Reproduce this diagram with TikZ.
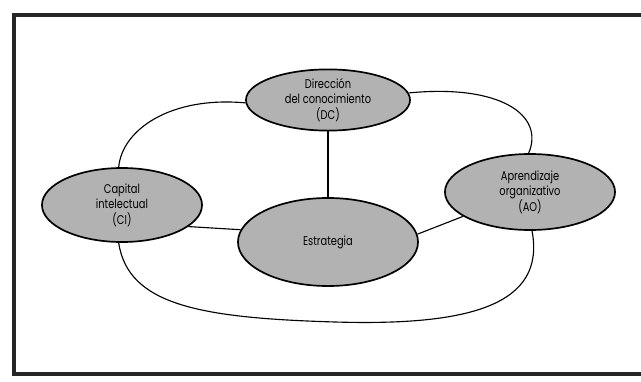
\documentclass[tikz,border=0pt]{standalone}
\usepackage{fontspec}
\setmainfont{Poppins}[FakeStretch=0.78]
\usepackage{tikz}
\usetikzlibrary{shapes.geometric, positioning, calc}

\begin{document}
\begin{tikzpicture}[x=0.025cm, y=-0.025cm, font=\small,
	bubble/.style={draw, ellipse, line width=1.2pt, fill=black!30, inner sep=0pt, align=center},
	link/.style={draw, line width=0.8pt}]
	\useasboundingbox (0,0) rectangle (641,382);
	% Frame
	\draw[line width=2.2pt, black!85] (641,15) -- (14,15) -- (14,374) -- (641,374);
	
	% Ellipses
	\node[bubble, minimum width=4.1cm, minimum height=1.5cm] (dc) at (328,100) {Dirección\\del conocimiento\\(DC)};
	\node[bubble, minimum width=4.0cm, minimum height=1.85cm] (ci) at (122,205) {Capital\\intelectual\\(CI)};
	\node[bubble, minimum width=4.25cm, minimum height=1.9cm] (ao) at (530,192) {Aprendizaje\\organizativo\\(AO)};
	\node[bubble, minimum width=4.5cm, minimum height=2.2cm] (est) at (328,242) {Estrategia};
	
	% Spokes
	\draw[link] (dc.south) -- (est.north);
	\draw[link] (ci.-18) -- (est.172);
	\draw[link] (est.5) -- (ao.200);
	
	% Outer ring
	\draw[link] (dc.182) .. controls (170,96) and (122,130) .. (ci.95);
	\draw[link] (dc.5) .. controls (500,84) and (545,115) .. (ao.92);
	\draw[link] (ci.265) .. controls (128,305) and (200,318) .. (335,322)
		.. controls (470,326) and (546,305) .. (ao.273);
\end{tikzpicture}
\end{document}
